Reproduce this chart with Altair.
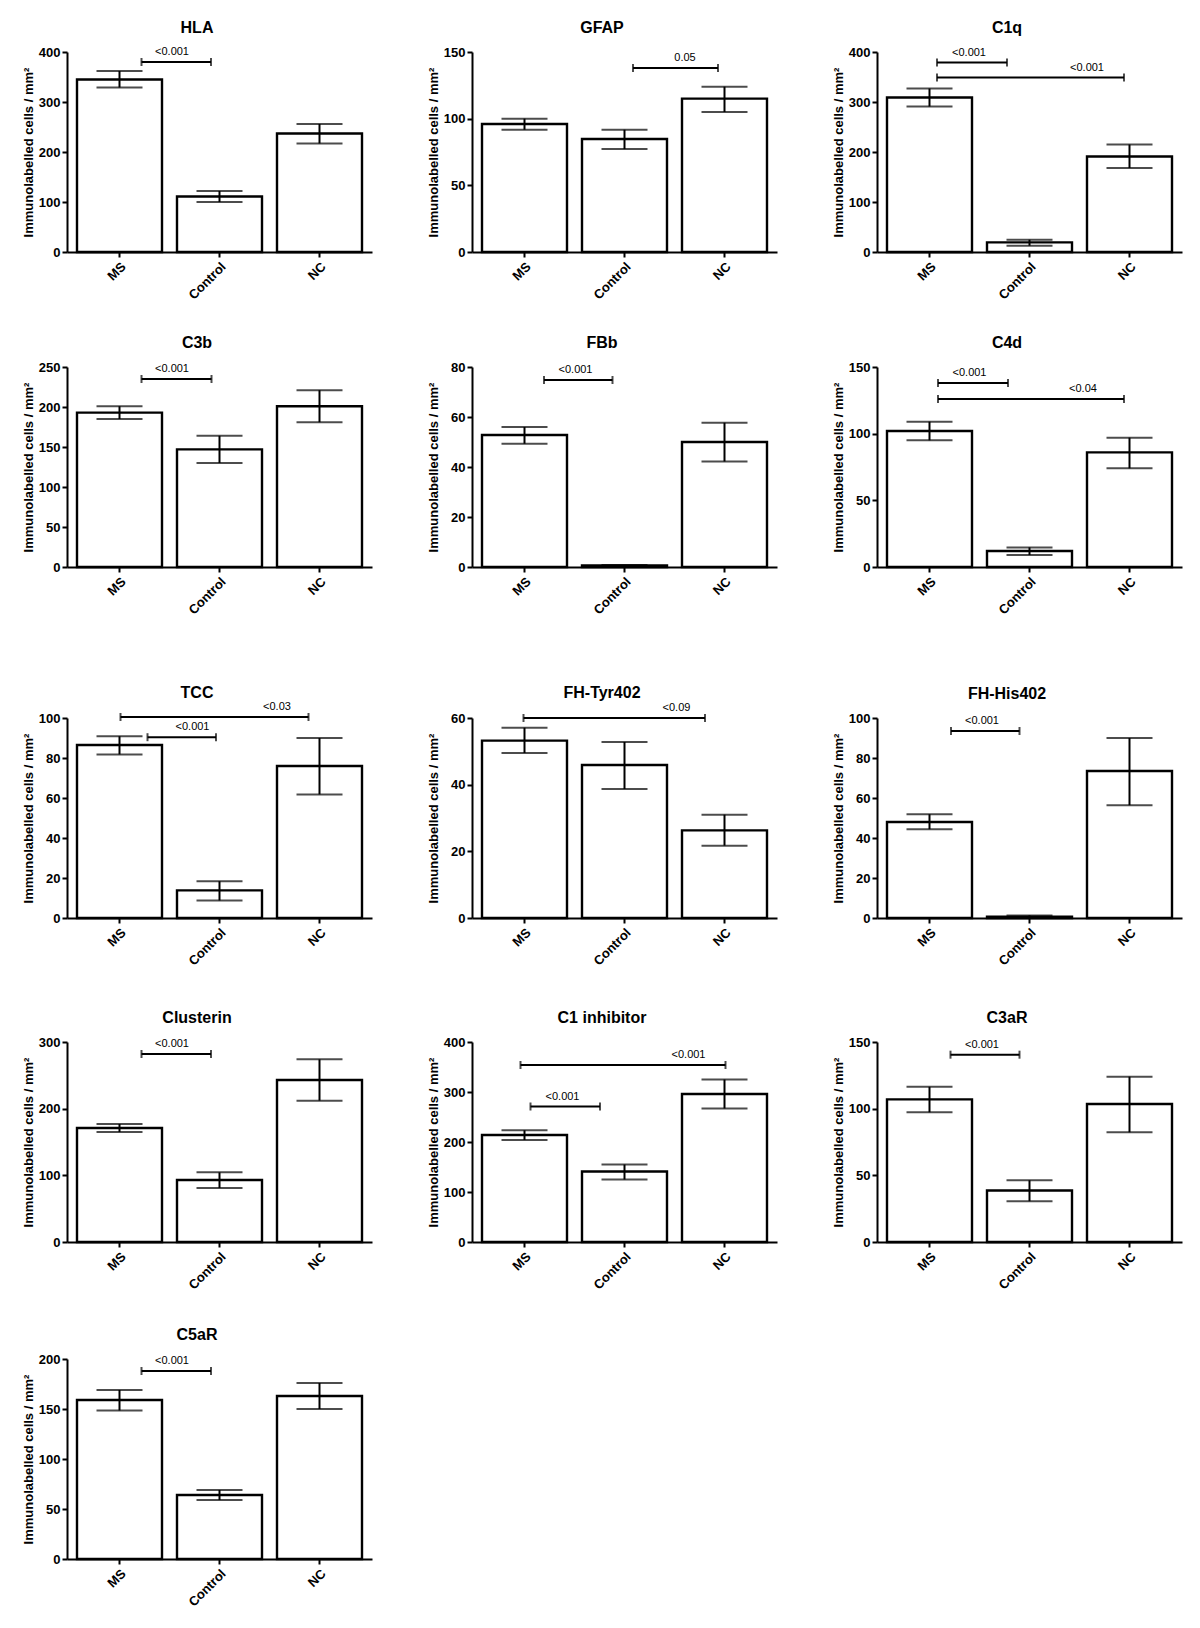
import altair as alt
import pandas as pd

GROUPS = ["MS", "Control", "NC"]
PANELS = ["HLA", "GFAP", "C1q", "C3b", "FBb", "C4d", "TCC", "FH-Tyr402", "FH-His402",
          "Clusterin", "C1 inhibitor", "C3aR", "C5aR"]
Y_MAX = [400, 150, 400, 250, 80, 150, 100, 60, 100, 300, 400, 150, 200]
Y_STEP = [100, 50, 100, 50, 20, 50, 20, 20, 20, 100, 100, 50, 50]

MS_MEAN = [345, 96, 309, 193, 52.8, 102, 86.5, 53.2, 48, 171, 214, 107, 159]
MS_LOW = [329, 91.7, 291, 185, 49.3, 95, 81.8, 49.5, 44.4, 165, 204, 97.3, 148.5]
MS_HIGH = [362, 100, 327, 201, 56, 109, 90.9, 57.1, 51.9, 177, 223.5, 116.4, 169]
CTRL_MEAN = [111, 84.7, 19.3, 147, 0.6, 12, 13.8, 45.9, 0.7, 93, 141, 38.6, 64]
CTRL_LOW = [100, 77.2, 12.6, 130, 0.4, 9, 8.75, 38.7, 0.2, 81, 125, 30.6, 59]
CTRL_HIGH = [122, 91.7, 24.6, 164, 0.8, 14.7, 18.4, 52.8, 1.3, 104.5, 155, 46.3, 69]
NC_MEAN = [237, 115, 191, 201, 50, 86, 76, 26.3, 73.5, 243, 296, 103.5, 163]
NC_LOW = [217, 105, 168, 181, 42.2, 74, 61.8, 21.7, 56.4, 212, 267, 82.3, 150]
NC_HIGH = [256, 124, 215, 221, 57.7, 97, 90, 31, 90, 274, 325, 124, 176]

# significance brackets (x in group-index units: 0=MS, 1=Control, 2=NC)
BR_PANEL = ["HLA", "GFAP", "C1q", "C1q", "C3b", "FBb", "C4d", "C4d", "TCC", "TCC",
            "FH-Tyr402", "FH-His402", "Clusterin", "C1 inhibitor", "C1 inhibitor", "C3aR", "C5aR"]
BR_FROM = [0.22, 1.085, 0.075, 0.075, 0.22, 0.195, 0.085, 0.085, 0.01, 0.28,
           -0.01, 0.215, 0.22, -0.04, 0.06, 0.21, 0.22]
BR_TO = [0.915, 1.935, 0.775, 1.945, 0.92, 0.88, 0.785, 1.945, 1.89, 0.965,
         1.805, 0.90, 0.915, 2.01, 0.755, 0.90, 0.915]
BR_Y = [380, 138, 379, 349, 235, 74.8, 138, 126, 100.5, 90.4,
        60, 93.5, 282, 354, 271, 140.5, 188]
BR_TEXT = ["<0.001", "0.05", "<0.001", "<0.001", "<0.001", "<0.001", "<0.001", "<0.04",
           "<0.03", "<0.001", "<0.09", "<0.001", "<0.001", "<0.001", "<0.001", "<0.001", "<0.001"]
BR_TEXT_X = [0.525, 1.605, 0.395, 1.575, 0.525, 0.51, 0.40, 1.535, 1.575, 0.73,
             1.52, 0.525, 0.525, 1.64, 0.38, 0.525, 0.525]

FONT = "Liberation Sans"
W, H = 305, 200
PAD_INNER, PAD_OUTER = 0.15, 0.1
TXT_SIZE = 11
TXT_DY = -7
BASE_TITLE_OFFSET = 10
LABEL_HALF = 6.5

brackets_all = pd.DataFrame({"panel": BR_PANEL, "x1": BR_FROM, "x2": BR_TO, "y": BR_Y,
                             "label": BR_TEXT, "lx": BR_TEXT_X})


def title_offset(i):
    # keep the title at a fixed distance above the plot even when annotation text
    # rises above the top of the plot area
    top = -LABEL_HALF
    for p, yv in zip(BR_PANEL, BR_Y):
        if p == PANELS[i]:
            ypx = H * (1 - yv / Y_MAX[i])
            top = min(top, ypx + TXT_DY - 0.8 * TXT_SIZE)
    return BASE_TITLE_OFFSET - (-LABEL_HALF - top)


def panel(i):
    name = PANELS[i]
    df = pd.DataFrame({
        "group": GROUPS,
        "mean": [MS_MEAN[i], CTRL_MEAN[i], NC_MEAN[i]],
        "low": [MS_LOW[i], CTRL_LOW[i], NC_LOW[i]],
        "high": [MS_HIGH[i], CTRL_HIGH[i], NC_HIGH[i]],
    })
    yscale = alt.Scale(domain=[0, Y_MAX[i]], nice=False, zero=True)
    yaxis = alt.Axis(values=list(range(0, Y_MAX[i] + 1, Y_STEP[i])),
                     title="Immunolabelled cells / mm²", titleX=-39, titleY=H / 2,
                     titleBaseline="middle", titleAngle=-90, format="d")
    xscale = alt.Scale(type="band", paddingInner=PAD_INNER, paddingOuter=PAD_OUTER)
    xaxis = alt.Axis(title=None, labelAngle=-45, labelPadding=3)
    xenc = alt.X("group:N", sort=GROUPS, scale=xscale, axis=xaxis)

    bars = alt.Chart(df).mark_bar(fill="white", stroke="black", strokeWidth=2.4).encode(
        x=xenc, y=alt.Y("mean:Q", scale=yscale, axis=yaxis))
    err = alt.Chart(df).mark_rule(color="black", strokeWidth=2).encode(
        x=xenc, y=alt.Y("low:Q", scale=yscale, axis=yaxis), y2="high:Q")
    cap_lo = alt.Chart(df).mark_tick(color="black", thickness=2, size=46, orient="horizontal").encode(
        x=xenc, y=alt.Y("low:Q", scale=yscale, axis=yaxis))
    cap_hi = alt.Chart(df).mark_tick(color="black", thickness=2, size=46, orient="horizontal").encode(
        x=xenc, y=alt.Y("high:Q", scale=yscale, axis=yaxis))
    main = alt.layer(bars, err, cap_lo, cap_hi)

    bdf = brackets_all[brackets_all["panel"] == name]
    bx = alt.Scale(domain=[-(PAD_OUTER + (1 - PAD_INNER) / 2), 2.5 - PAD_INNER / 2 + PAD_OUTER],
                   nice=False, zero=False)
    ybr = alt.Y("y:Q", scale=yscale, axis=yaxis)
    br_line = alt.Chart(bdf).mark_rule(color="black", strokeWidth=2).encode(
        x=alt.X("x1:Q", scale=bx, axis=None), x2="x2:Q", y=ybr)
    br_end1 = alt.Chart(bdf).mark_tick(color="black", thickness=2, size=8, orient="vertical").encode(
        x=alt.X("x1:Q", scale=bx, axis=None), y=ybr)
    br_end2 = alt.Chart(bdf).mark_tick(color="black", thickness=2, size=8, orient="vertical").encode(
        x=alt.X("x2:Q", scale=bx, axis=None), y=ybr)
    br_txt = alt.Chart(bdf).mark_text(font=FONT, fontSize=TXT_SIZE, color="black",
                                      baseline="alphabetic", dy=TXT_DY).encode(
        x=alt.X("lx:Q", scale=bx, axis=None), y=ybr, text="label:N")
    br = alt.layer(br_line, br_end1, br_end2, br_txt)

    return alt.layer(main, br).resolve_scale(x="independent").properties(
        width=W, height=H,
        title=alt.TitleParams(name, font=FONT, fontSize=16, fontWeight="bold", color="black",
                              anchor="middle", frame="bounds", offset=title_offset(i)))


H_SP = 54
row1 = alt.hconcat(panel(0), panel(1), panel(2), spacing=H_SP)
row2 = alt.hconcat(panel(3), panel(4), panel(5), spacing=H_SP)
row3 = alt.hconcat(panel(6), panel(7), panel(8), spacing=H_SP)
row4 = alt.hconcat(panel(9), panel(10), panel(11), spacing=H_SP)
row5 = alt.hconcat(panel(12), spacing=H_SP)

v = alt.vconcat(row1, row2, spacing=33)
v = alt.vconcat(v, row3, spacing=68)
v = alt.vconcat(v, row4, spacing=42)
chart = alt.vconcat(v, row5, spacing=35)

chart = chart.configure(
    font=FONT, padding={"left": 13, "top": 12, "right": 5, "bottom": 5}, background="white"
).configure_view(stroke=None).configure_axis(
    domainColor="black", domainWidth=2, tickColor="black", tickWidth=2, tickSize=5,
    labelColor="black", labelFont=FONT, labelFontSize=13, labelFontWeight="bold",
    titleColor="black", titleFont=FONT, titleFontSize=13, titleFontWeight="bold", grid=False
)

chart.save("out.html", embed_options={"renderer": "svg", "actions": False})
